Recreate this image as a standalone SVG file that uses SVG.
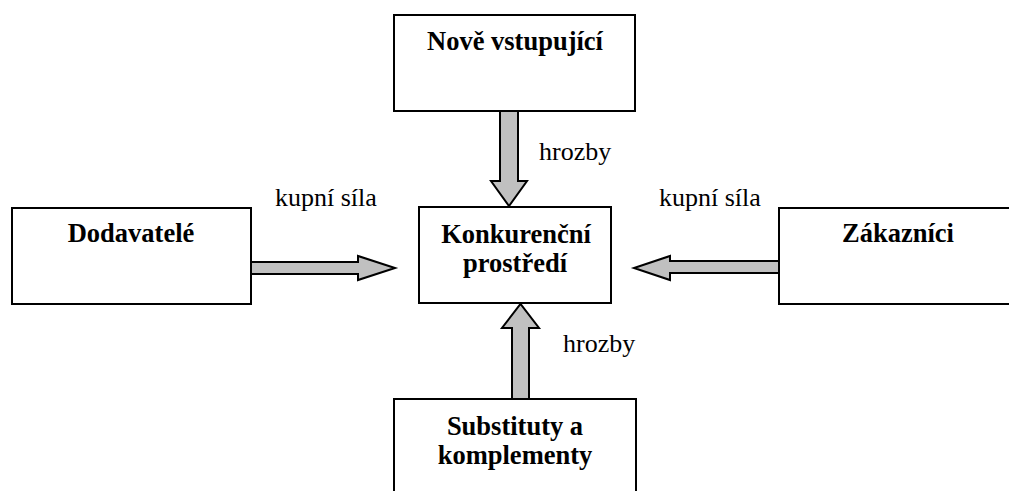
<svg xmlns="http://www.w3.org/2000/svg" width="1009" height="491" viewBox="0 0 1009 491">
  <style>
    .box { fill: #ffffff; stroke: #000000; stroke-width: 2; }
    .arrow { fill: #c0c0c0; stroke: #000000; stroke-width: 2; stroke-linejoin: miter; }
    .title { font-family: "Liberation Serif", "Times New Roman", serif; font-weight: bold; font-size: 26.5px; fill: #000000; text-anchor: middle; }
    .label { font-family: "Liberation Serif", "Times New Roman", serif; font-size: 26px; fill: #000000; }
  </style>
  <rect x="0" y="0" width="1009" height="491" fill="#ffffff"/>

  <g id="connectors">
    <polygon class="arrow" points="500,111 518,111 518,181 527,181 509,206 491,181 500,181"/>
    <polygon class="arrow" points="512,399 529,399 529,328 539,328 520.5,304 502,328 512,328"/>
    <polygon class="arrow" points="251,262 358,262 358,256 395,268 358,280 358,274 251,274"/>
    <polygon class="arrow" points="779,261 670,261 670,256 634,268 670,280 670,273 779,273"/>
    <text class="label" x="539" y="160">hrozby</text>
    <text class="label" x="563" y="352">hrozby</text>
    <text class="label" x="275" y="206">kupní síla</text>
    <text class="label" x="659" y="206">kupní síla</text>
  </g>

  <g id="node-nove">
    <rect class="box" x="394" y="15" width="241" height="96"/>
    <text class="title" x="515" y="50">Nově vstupující</text>
  </g>

  <g id="node-dodavatele">
    <rect class="box" x="12" y="208" width="239" height="96"/>
    <text class="title" x="131" y="242">Dodavatelé</text>
  </g>

  <g id="node-konkurencni">
    <rect class="box" x="419" y="207" width="192" height="96"/>
    <text class="title" x="516" y="243">Konkurenční</text>
    <text class="title" x="515" y="272">prostředí</text>
  </g>

  <g id="node-zakaznici">
    <rect class="box" x="779" y="208" width="240" height="96"/>
    <text class="title" x="898" y="242">Zákazníci</text>
  </g>

  <g id="node-substituty">
    <rect class="box" x="394" y="399" width="242" height="100"/>
    <text class="title" x="515" y="435">Substituty a</text>
    <text class="title" x="515" y="464">komplementy</text>
  </g>
</svg>
